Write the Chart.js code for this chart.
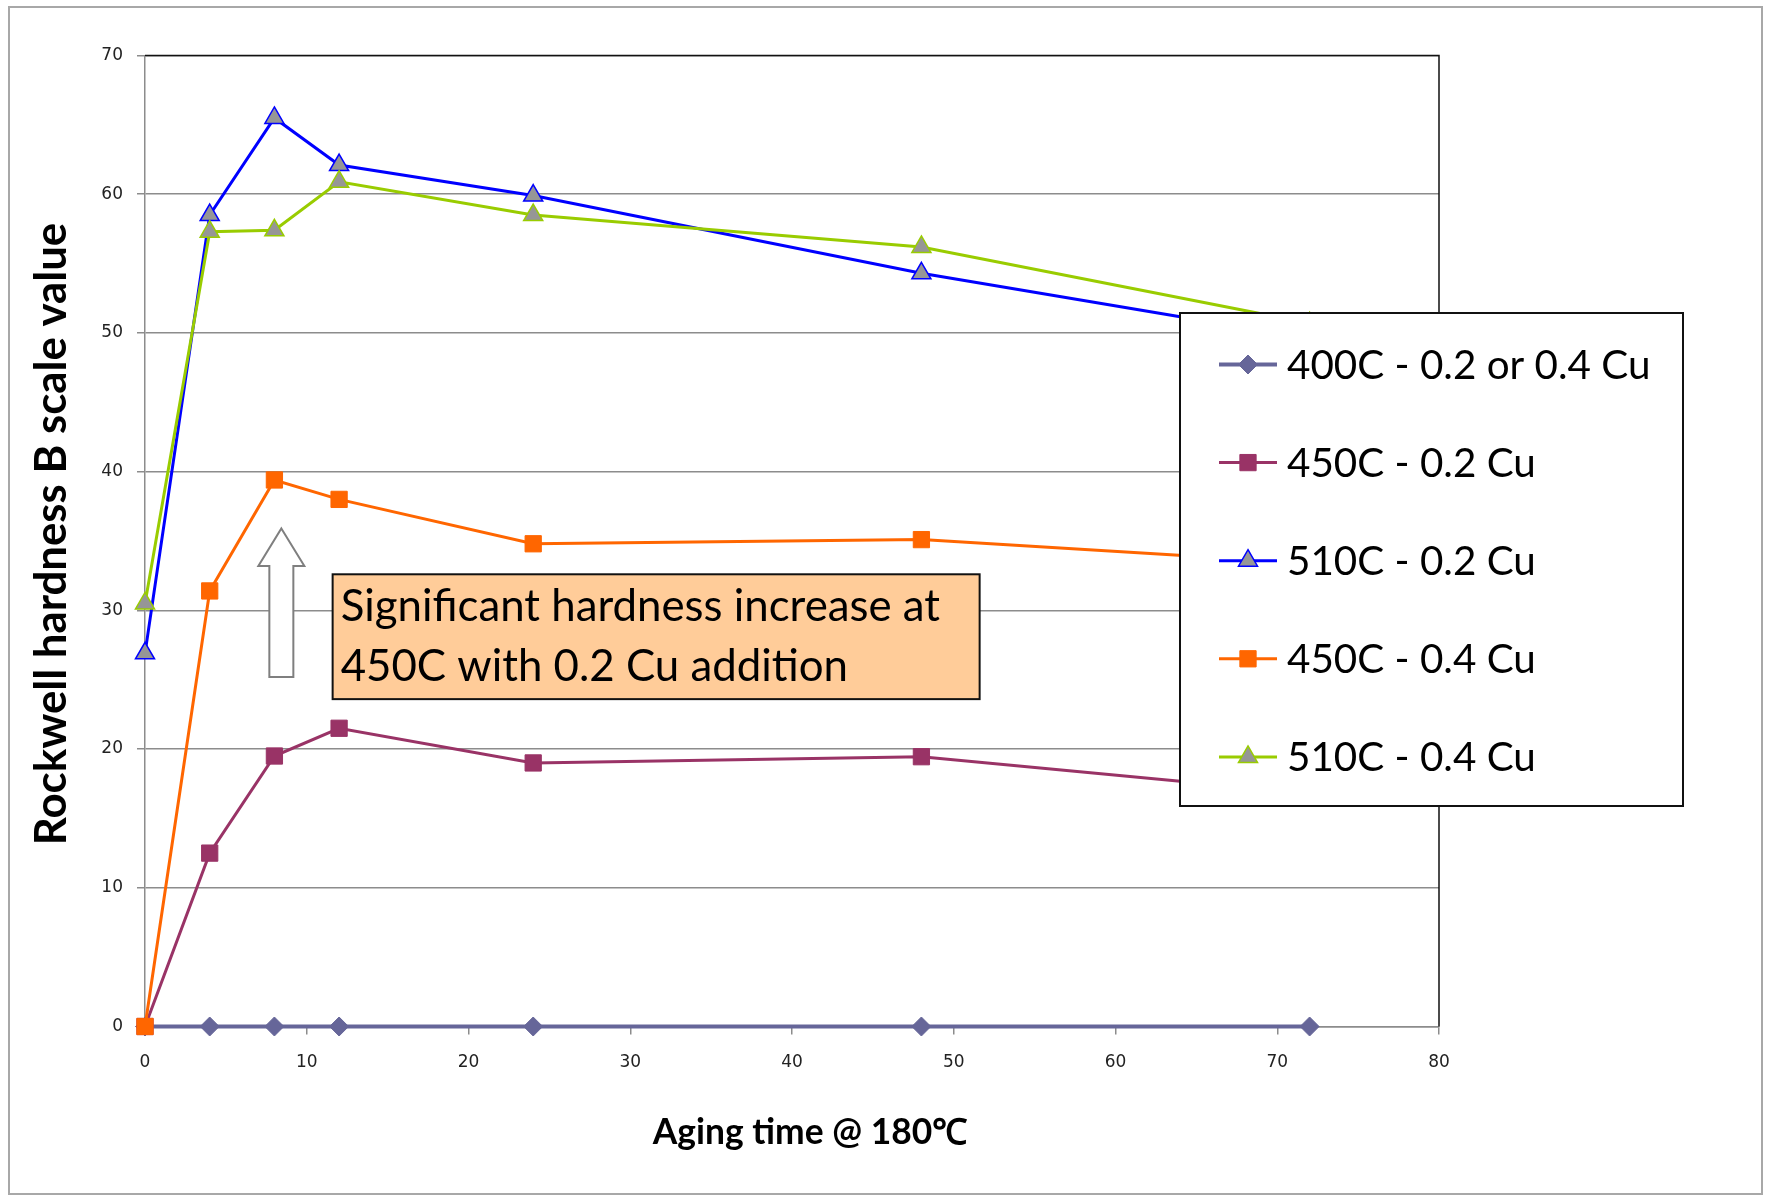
<!DOCTYPE html>
<html lang="en">
<head>
  <meta charset="UTF-8" />
  <title>Rockwell hardness vs aging time</title>
  <script src="https://cdn.jsdelivr.net/npm/chart.js"></script>
  <style>
    html, body { margin: 0; padding: 0; background: white; }
    #wrap { position: relative; width: 1771px; height: 1196px; }
  </style>
</head>
<body>
  <div id="wrap"><canvas id="hardness" width="1771" height="1196"></canvas></div>

  <script>
    // aging time (hours) at 180C
    const agingHours = [0, 4, 8, 12, 24, 48, 72];

    // Rockwell B readings per solution treatment
    const hard400 = [0, 0, 0, 0, 0, 0, 0];
    const hard450Cu02 = [0, 12.5, 19.5, 21.5, 19.0, 19.45, 16.8];
    const hard510Cu02 = [26.9, 58.5, 65.5, 62.1, 59.9, 54.3, 49.6];
    const hard450Cu04 = [0, 31.4, 39.4, 38.0, 34.8, 35.1, 33.4];
    const hard510Cu04 = [30.5, 57.3, 57.4, 60.9, 58.5, 56.2, 50.7];

    const seriesNames = ['400C - 0.2 or 0.4 Cu', '450C - 0.2 Cu', '510C - 0.2 Cu', '450C - 0.4 Cu', '510C - 0.4 Cu'];
    const xTicks = [0, 10, 20, 30, 40, 50, 60, 70, 80];
    const yTicks = [0, 10, 20, 30, 40, 50, 60, 70];

    const xTitle = 'Aging time @ 180\u2103';
    const yTitle = 'Rockwell hardness B scale value';
    const noteLines = ['Significant hardness increase at', '450C with 0.2 Cu addition'];

    const pts = (ys) => agingHours.map((x, i) => ({ x: x, y: ys[i] }));

    // font size that makes text span a given width
    function fitFont(ctx, text, weight, family, width) {
      ctx.save();
      ctx.font = weight + ' 100px ' + family;
      const w = ctx.measureText(text).width;
      ctx.restore();
      return 100 * width / w;
    }

    const decor = {
      id: 'decor',
      beforeDraw(chart) {
        const c = chart.ctx;
        c.save();
        c.fillStyle = '#fff';
        c.fillRect(0, 0, chart.width, chart.height);
        c.strokeStyle = '#a8a8a8';
        c.lineWidth = 2;
        c.strokeRect(9, 7, 1753, 1187);
        c.restore();
      },
      beforeDatasetsDraw(chart) {
        const { ctx, chartArea: a } = chart;
        ctx.save();
        ctx.strokeStyle = '#111';
        ctx.lineWidth = 1.5;
        ctx.beginPath();
        ctx.moveTo(a.left, a.top);
        ctx.lineTo(a.right, a.top);
        ctx.lineTo(a.right, a.bottom);
        ctx.stroke();
        ctx.restore();
      },
      afterDatasetsDraw(chart) {
        const { ctx, scales } = chart;
        const sx = scales.x, sy = scales.y;
        ctx.save();

        // block arrow pointing up
        const tx = sx.getPixelForValue(8.43), ty = sy.getPixelForValue(35.9);
        const by = sy.getPixelForValue(25.2), hy = sy.getPixelForValue(33.2);
        ctx.beginPath();
        ctx.moveTo(tx, ty);
        ctx.lineTo(tx + 23, hy);
        ctx.lineTo(tx + 12, hy);
        ctx.lineTo(tx + 12, by);
        ctx.lineTo(tx - 12, by);
        ctx.lineTo(tx - 12, hy);
        ctx.lineTo(tx - 23, hy);
        ctx.closePath();
        ctx.fillStyle = '#fff';
        ctx.fill();
        ctx.strokeStyle = '#7f7f7f';
        ctx.lineWidth = 2;
        ctx.stroke();

        // note box
        const bx0 = sx.getPixelForValue(11.6), bx1 = sx.getPixelForValue(51.6);
        const by0 = sy.getPixelForValue(32.6), by1 = sy.getPixelForValue(23.6);
        ctx.fillStyle = '#FFCC99';
        ctx.fillRect(bx0, by0, bx1 - bx0, by1 - by0);
        ctx.strokeStyle = '#111';
        ctx.lineWidth = 2;
        ctx.strokeRect(bx0, by0, bx1 - bx0, by1 - by0);
        const nf = fitFont(ctx, noteLines[0], 'normal', 'Lato', 600);
        ctx.font = nf.toFixed(1) + 'px Lato';
        ctx.fillStyle = '#000';
        ctx.textBaseline = 'alphabetic';
        ctx.textAlign = 'left';
        ctx.fillText(noteLines[0], bx0 + 8, by0 + 47);
        ctx.fillText(noteLines[1], bx0 + 8, by0 + 107);

        // legend
        const L = { left: 1180, top: 313, right: 1683, bottom: 806 };
        ctx.fillStyle = '#fff';
        ctx.fillRect(L.left, L.top, L.right - L.left, L.bottom - L.top);
        ctx.strokeStyle = '#111';
        ctx.lineWidth = 2;
        ctx.strokeRect(L.left, L.top, L.right - L.left, L.bottom - L.top);
        const lf = fitFont(ctx, seriesNames[0], 'normal', 'Lato', 364);
        chart.data.datasets.forEach((ds, i) => {
          const y = 364.5 + i * 98.1;
          ctx.strokeStyle = ds.borderColor;
          ctx.lineWidth = ds.borderWidth;
          ctx.beginPath();
          ctx.moveTo(1219, y);
          ctx.lineTo(1277, y);
          ctx.stroke();
          ctx.fillStyle = ds.pointBackgroundColor;
          ctx.strokeStyle = ds.pointBorderColor;
          ctx.lineWidth = ds.pointBorderWidth;
          Chart.helpers.drawPoint(ctx, { pointStyle: ds.pointStyle, radius: ds.pointRadius, rotation: 0, borderWidth: ds.pointBorderWidth }, 1248, y);
          ctx.fillStyle = '#000';
          ctx.font = lf.toFixed(1) + 'px Lato';
          ctx.textBaseline = 'middle';
          ctx.fillText(ds.label, 1287, y + 1);
        });
        ctx.restore();
      },
      afterDraw(chart) {
        const ctx = chart.ctx;
        ctx.save();
        ctx.fillStyle = '#000';
        ctx.textAlign = 'center';
        ctx.textBaseline = 'middle';
        const xf = fitFont(ctx, xTitle, 'bold', 'Lato', 315);
        ctx.font = 'bold ' + xf.toFixed(1) + 'px Lato';
        ctx.fillText(xTitle, 810, 1133);
        const yf = fitFont(ctx, yTitle, 'bold', 'Lato', 623);
        ctx.translate(52, 534);
        ctx.rotate(-Math.PI / 2);
        ctx.font = 'bold ' + yf.toFixed(1) + 'px Lato';
        ctx.fillText(yTitle, 0, 0);
        ctx.restore();
      }
    };

    const ctx = document.getElementById('hardness').getContext('2d');
    new Chart(ctx, {
      type: 'line',
      data: {
        datasets: [
          {
            label: seriesNames[0], data: pts(hard400), order: 4,
            borderColor: '#666699', borderWidth: 4,
            pointStyle: 'rectRot', pointRadius: 9.5,
            pointBackgroundColor: '#666699', pointBorderColor: '#666699', pointBorderWidth: 1
          },
          {
            label: seriesNames[1], data: pts(hard450Cu02), order: 3,
            borderColor: '#993366', borderWidth: 3,
            pointStyle: 'rect', pointRadius: 11.5,
            pointBackgroundColor: '#993366', pointBorderColor: '#993366', pointBorderWidth: 1
          },
          {
            label: seriesNames[2], data: pts(hard510Cu02), order: 2,
            borderColor: '#0000FF', borderWidth: 3,
            pointStyle: 'triangle', pointRadius: 11,
            pointBackgroundColor: '#969696', pointBorderColor: '#0000FF', pointBorderWidth: 1.5
          },
          {
            label: seriesNames[3], data: pts(hard450Cu04), order: 1,
            borderColor: '#FF6600', borderWidth: 3,
            pointStyle: 'rect', pointRadius: 11.5,
            pointBackgroundColor: '#FF6600', pointBorderColor: '#FF6600', pointBorderWidth: 1
          },
          {
            label: seriesNames[4], data: pts(hard510Cu04), order: 0,
            borderColor: '#99CC00', borderWidth: 3,
            pointStyle: 'triangle', pointRadius: 11,
            pointBackgroundColor: '#969696', pointBorderColor: '#99CC00', pointBorderWidth: 1.5
          }
        ]
      },
      options: {
        responsive: false,
        animation: false,
        events: [],
        datasets: { line: { tension: 0, clip: false } },
        layout: { padding: { left: 0, top: 55.5, right: 332, bottom: 0 } },
        plugins: { legend: { display: false }, tooltip: { enabled: false } },
        scales: {
          x: {
            type: 'linear',
            min: xTicks[0], max: xTicks[xTicks.length - 1],
            afterFit: (s) => { s.height = 169.5; },
            afterBuildTicks: (s) => { s.ticks = xTicks.map(v => ({ value: v })); },
            grid: { display: true, drawOnChartArea: false, drawTicks: true, tickLength: 8, color: '#8c8c8c', lineWidth: 1.5 },
            border: { display: true, color: '#8c8c8c', width: 1.5 },
            ticks: { padding: 18, color: '#222', font: { family: 'DejaVu Sans', size: 17 }, maxRotation: 0 }
          },
          y: {
            min: yTicks[0], max: yTicks[yTicks.length - 1],
            afterFit: (s) => { s.width = 145; },
            afterBuildTicks: (s) => { s.ticks = yTicks.map(v => ({ value: v })); },
            grid: { display: true, drawOnChartArea: true, drawTicks: true, tickLength: 8, color: '#8c8c8c', lineWidth: 1.5 },
            border: { display: true, color: '#8c8c8c', width: 1.5 },
            ticks: { padding: 14, color: '#222', font: { family: 'DejaVu Sans', size: 17 } }
          }
        }
      },
      plugins: [decor]
    });
  </script>
</body>
</html>
